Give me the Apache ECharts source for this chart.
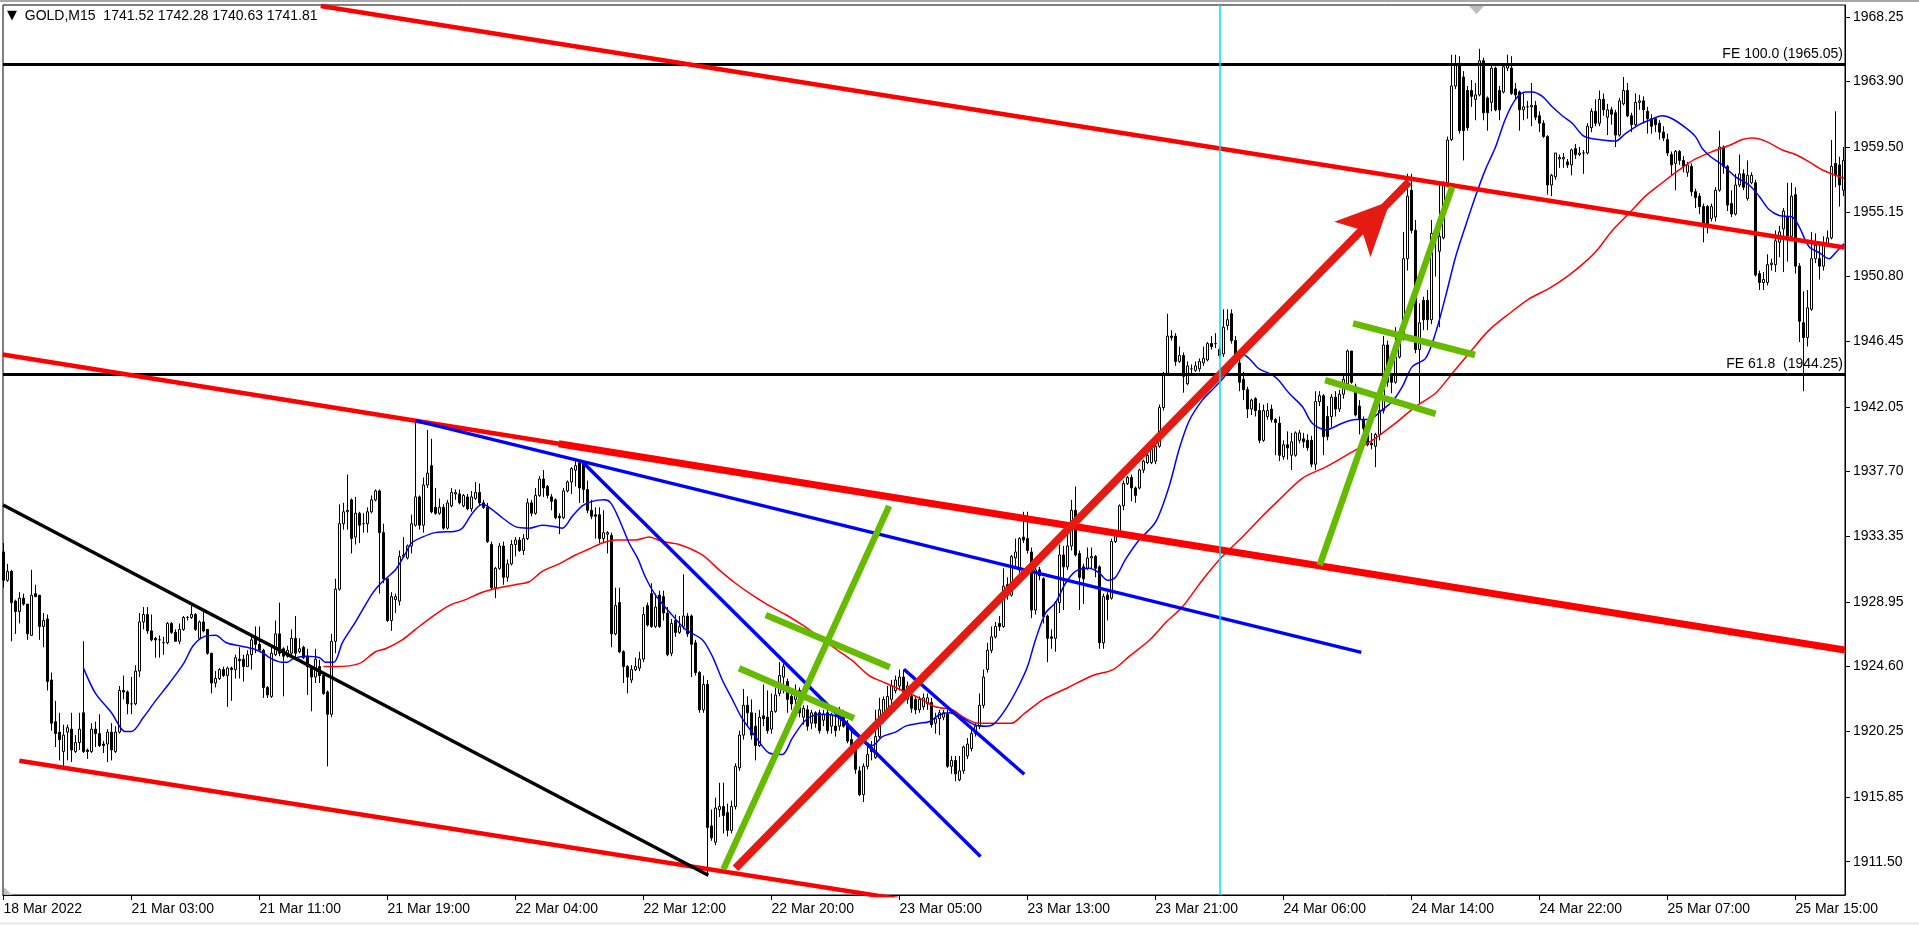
<!DOCTYPE html>
<html><head><meta charset="utf-8">
<script src="https://cdn.jsdelivr.net/npm/echarts@6/dist/echarts.min.js"></script>
<style>html,body{margin:0;padding:0;background:#fff;}#c{width:1919px;height:925px;}</style>
</head><body><div id="c"></div>
<script>
// ---------- axis labels ----------
const xLabelIdx = [0,32,64,96,128,160,192,224,256,288,320,352,384,416,448];
const xLabels = ['18 Mar 2022','21 Mar 03:00','21 Mar 11:00','21 Mar 19:00','22 Mar 04:00','22 Mar 12:00','22 Mar 20:00','23 Mar 05:00','23 Mar 13:00','23 Mar 21:00','24 Mar 06:00','24 Mar 14:00','24 Mar 22:00','25 Mar 07:00','25 Mar 15:00'];
const yTickLabels = ['1968.25','1963.90','1959.50','1955.15','1950.80','1946.45','1942.05','1937.70','1933.35','1928.95','1924.60','1920.25','1915.85','1911.50'];

// ---------- candles (M15 bars, index 0..460) ----------
const opens = [
1932.3,1930.4,1931.0,1929.0,1928.3,1929.2,1928.8,1926.7,1929.5,1929.4,
1927.3,1927.8,1923.7,1920.9,1920.2,1918.9,1920.2,1920.4,1918.9,1919.5,
1921.5,1919.0,1918.9,1920.4,1920.1,1919.4,1919.4,1920.2,1918.9,1920.2,
1923.0,1922.9,1922.1,1922.1,1924.3,1927.6,1928.1,1927.0,1926.5,1926.4,
1926.2,1926.2,1927.5,1926.9,1926.3,1927.1,1927.9,1927.9,1928.1,1926.5,
1927.6,1927.1,1925.5,1923.5,1923.8,1924.4,1924.0,1924.5,1924.4,1925.1,
1925.1,1924.6,1925.4,1926.5,1926.1,1925.7,1923.2,1922.6,1925.4,1926.8,
1925.8,1925.3,1925.5,1926.5,1925.6,1925.9,1925.3,1924.6,1923.9,1924.6,
1924.0,1922.9,1921.4,1926.3,1929.8,1934.2,1935.0,1935.8,1933.3,1934.9,
1934.2,1934.2,1935.0,1935.8,1936.4,1933.6,1930.5,1927.7,1929.1,1929.0,
1932.0,1931.9,1932.7,1934.1,1936.0,1934.1,1936.8,1938.1,1935.3,1934.9,
1935.3,1933.9,1935.4,1936.2,1936.2,1935.4,1936.0,1935.2,1935.9,1936.3,
1935.6,1935.3,1932.8,1929.9,1931.2,1932.7,1930.6,1931.5,1932.8,1933.1,
1932.4,1933.2,1935.6,1934.9,1936.1,1937.2,1936.7,1936.0,1935.8,1934.7,
1934.6,1936.4,1937.0,1937.8,1938.3,1938.3,1936.5,1935.1,1934.8,1934.8,
1933.2,1933.5,1933.4,1926.8,1928.9,1925.6,1924.6,1923.7,1924.4,1924.5,
1925.1,1928.7,1929.5,1927.3,1929.4,1929.3,1928.2,1925.5,1927.7,1926.9,
1927.3,1928.0,1928.0,1926.2,1924.2,1921.7,1923.4,1913.9,1912.8,1915.0,
1915.2,1914.8,1913.6,1915.2,1917.8,1920.0,1922.0,1921.5,1920.6,1919.3,
1921.3,1921.2,1920.4,1921.6,1922.8,1923.9,1923.6,1922.6,1922.4,1923.0,
1921.2,1921.7,1920.8,1921.5,1921.5,1921.0,1921.5,1920.6,1920.6,1920.6,
1921.5,1920.8,1919.7,1919.2,1917.6,1916.0,1917.9,1919.2,1918.5,1919.9,
1921.0,1921.7,1922.4,1923.0,1923.3,1923.9,1922.4,1922.6,1922.4,1921.7,
1921.9,1922.1,1922.2,1920.8,1921.1,1921.2,1921.4,1917.9,1918.3,1917.0,
1917.6,1918.6,1919.1,1920.1,1920.6,1922.0,1924.4,1925.7,1926.6,1927.5,
1927.3,1930.1,1929.4,1931.9,1931.1,1933.3,1933.2,1932.3,1928.4,1931.1,
1930.5,1928.0,1926.6,1926.5,1928.9,1932.1,1931.3,1932.7,1935.1,1932.2,
1931.3,1931.2,1931.9,1932.0,1931.3,1926.2,1929.4,1929.2,1933.0,1933.6,
1935.4,1936.9,1937.3,1936.6,1936.6,1937.8,1938.3,1938.3,1938.4,1939.4,
1942.0,1944.3,1946.8,1946.8,1945.1,1945.5,1943.6,1944.6,1944.5,1944.6,
1945.0,1945.2,1946.3,1946.3,1945.9,1945.6,1947.5,1948.3,1946.5,1945.0,
1943.9,1943.2,1941.9,1942.6,1941.8,1939.8,1941.4,1941.9,1941.2,1940.95,
1938.7,1939.5,1938.8,1938.8,1939.8,1939.9,1939.8,1939.8,1938.2,1942.4,
1942.8,1941.4,1941.4,1942.7,1941.9,1942.9,1943.6,1945.8,1943.4,1942.1,
1941.2,1940.6,1939.6,1939.4,1940.2,1941.8,1946.2,1944.1,1943.7,1945.4,
1946.6,1952.0,1956.6,1953.9,1945.9,1949.2,1949.2,1947.9,1953.7,1952.5,
1953.4,1957.1,1960.0,1963.6,1965.1,1964.2,1963.3,1963.3,1962.7,1963.0,
1965.3,1962.8,1962.5,1964.8,1963.3,1963.2,1964.8,1964.8,1963.4,1963.2,
1962.0,1962.2,1962.2,1962.3,1961.6,1961.1,1960.2,1956.95,1957.5,1958.7,
1958.7,1958.5,1958.3,1959.4,1959.0,1959.1,1959.1,1960.8,1961.9,1961.1,
1962.7,1961.5,1962.0,1961.8,1960.3,1962.4,1963.3,1961.6,1961.0,1962.5,
1962.6,1961.9,1961.4,1961.4,1961.1,1960.5,1960.0,1959.0,1958.4,1959.2,
1958.6,1957.8,1958.2,1956.5,1956.2,1955.5,1955.5,1954.7,1954.8,1956.6,
1959.5,1958.2,1955.7,1955.0,1956.95,1957.7,1956.05,1957.1,1957.1,1951.0,
1950.4,1950.4,1951.6,1951.6,1953.1,1954.0,1954.8,1953.5,1956.3,1951.5,
1947.7,1946.7,1948.6,1952.0,1952.0,1951.5,1953.0,1953.4,1958.4,1958.3,1956.6];
const closes = [
1930.4,1931.0,1928.9,1928.3,1929.2,1928.8,1926.8,1929.4,1929.3,1927.3,
1927.7,1923.6,1920.8,1920.1,1919.7,1920.0,1920.5,1919.0,1919.5,1920.4,
1918.9,1918.9,1920.4,1920.1,1919.3,1919.3,1920.2,1919.0,1920.2,1923.0,
1922.9,1922.1,1922.1,1924.3,1927.6,1928.1,1927.0,1926.4,1926.4,1926.4,
1926.2,1927.5,1926.9,1926.3,1927.1,1927.9,1927.9,1928.1,1927.1,1927.6,
1927.0,1925.5,1923.5,1923.8,1924.4,1924.0,1924.5,1924.4,1925.2,1925.0,
1924.6,1925.4,1926.4,1926.1,1925.7,1923.2,1922.7,1925.5,1926.8,1925.5,
1925.3,1925.7,1926.5,1925.5,1925.8,1925.2,1924.6,1923.9,1925.1,1924.0,
1922.8,1921.4,1926.3,1929.8,1934.2,1935.0,1935.1,1933.2,1934.9,1934.1,
1934.2,1935.0,1935.8,1936.4,1933.6,1930.5,1927.7,1929.3,1929.3,1932.0,
1932.1,1932.7,1934.2,1936.0,1934.1,1936.8,1937.6,1935.0,1934.9,1935.3,
1933.9,1935.6,1936.3,1936.3,1935.6,1936.1,1935.2,1936.0,1936.3,1935.6,
1935.3,1933.0,1929.9,1931.2,1932.7,1930.6,1931.5,1932.8,1933.1,1932.4,
1933.2,1935.6,1934.9,1936.1,1937.2,1936.6,1936.1,1935.7,1934.6,1934.6,
1936.4,1937.0,1937.9,1938.1,1936.6,1936.5,1935.1,1934.7,1934.7,1933.2,
1933.6,1933.6,1926.8,1928.7,1925.6,1924.6,1923.9,1924.4,1924.6,1925.1,
1928.1,1927.4,1927.3,1928.6,1927.3,1928.2,1925.4,1927.5,1926.9,1927.3,
1928.0,1926.8,1926.1,1924.2,1921.7,1923.4,1913.8,1913.1,1915.1,1915.2,
1914.6,1913.6,1915.2,1917.9,1920.0,1922.0,1921.5,1920.0,1919.3,1921.2,
1921.1,1920.3,1921.6,1922.7,1924.0,1924.6,1922.4,1922.1,1923.0,1921.5,
1921.8,1920.6,1921.5,1920.8,1920.3,1921.4,1920.3,1921.4,1920.3,1921.5,
1920.6,1919.6,1919.3,1917.7,1916.0,1917.9,1918.7,1918.9,1919.9,1921.7,
1922.4,1922.6,1923.3,1923.7,1923.9,1922.9,1923.3,1921.8,1921.7,1922.4,
1922.5,1922.5,1920.7,1921.1,1921.5,1921.5,1917.9,1918.3,1917.4,1917.6,
1919.2,1919.4,1920.1,1920.6,1922.0,1923.9,1925.7,1926.6,1927.3,1927.3,
1930.0,1929.4,1932.0,1932.3,1933.2,1933.1,1932.4,1928.4,1931.1,1930.7,
1927.96,1926.5,1926.5,1928.9,1932.1,1931.3,1932.7,1935.1,1932.1,1930.6,
1930.5,1931.9,1932.0,1931.2,1926.2,1929.3,1929.1,1933.0,1933.6,1935.4,
1936.9,1937.3,1936.6,1936.1,1937.8,1938.4,1938.8,1939.2,1939.4,1942.0,
1944.3,1946.8,1946.7,1945.1,1945.5,1944.1,1944.8,1944.6,1944.8,1945.1,
1945.3,1946.3,1946.1,1946.3,1945.5,1947.4,1947.9,1946.5,1945.4,1943.7,
1943.2,1941.9,1942.5,1941.8,1939.8,1941.8,1941.8,1941.2,1941.0,1938.8,
1939.5,1939.3,1939.7,1940.3,1940.3,1939.7,1939.3,1938.2,1942.4,1942.8,
1940.05,1940.05,1942.7,1941.9,1942.9,1943.9,1945.8,1943.7,1941.5,1941.2,
1940.6,1939.5,1939.5,1940.2,1941.8,1946.2,1943.7,1943.7,1945.4,1946.8,
1952.0,1956.2,1953.9,1945.9,1947.7,1947.9,1947.9,1953.7,1953.3,1953.5,
1957.1,1959.97,1963.6,1965.0,1960.6,1960.6,1960.8,1962.9,1963.0,1965.3,
1961.8,1961.8,1964.8,1962.0,1962.0,1964.9,1965.0,1963.1,1963.0,1962.0,
1962.2,1962.2,1962.3,1961.5,1961.1,1960.2,1956.95,1957.6,1959.1,1958.8,
1958.8,1958.3,1959.3,1959.0,1959.1,1959.1,1960.9,1961.9,1961.1,1962.7,
1962.0,1962.0,1961.7,1960.3,1962.6,1963.3,1961.6,1961.0,1962.5,1962.6,
1962.0,1961.4,1960.9,1961.0,1960.5,1960.1,1959.1,1958.3,1959.2,1958.6,
1958.2,1958.3,1956.5,1956.1,1955.5,1954.2,1954.2,1955.5,1956.6,1959.5,
1958.2,1955.6,1955.0,1956.95,1957.7,1956.8,1957.6,1957.6,1950.9,1950.4,
1950.6,1951.6,1951.7,1953.2,1953.8,1955.2,1953.5,1956.2,1951.5,1947.8,
1946.7,1948.7,1952.0,1952.9,1951.5,1953.0,1953.4,1958.2,1957.6,1956.95,1958.6];
const lows = [
1929.9,1930.3,1926.3,1926.8,1927.5,1928.7,1926.4,1926.7,1929.3,1926.4,
1925.9,1923.0,1920.3,1919.2,1918.3,1917.9,1918.3,1918.2,1918.8,1919.0,
1918.8,1918.4,1918.8,1919.2,1919.2,1918.8,1918.2,1918.3,1918.8,1920.1,
1922.4,1921.4,1921.4,1922.0,1923.9,1927.1,1926.8,1926.3,1925.2,1925.2,
1925.4,1926.1,1926.8,1926.3,1926.1,1927.0,1927.7,1927.8,1927.0,1926.4,
1926.9,1925.4,1922.8,1923.2,1923.7,1923.9,1921.9,1922.3,1923.8,1923.8,
1923.6,1924.6,1924.4,1925.5,1925.7,1922.5,1922.5,1922.5,1925.3,1925.3,
1922.6,1925.2,1925.2,1925.1,1925.5,1925.1,1922.7,1921.6,1923.5,1923.5,
1922.7,1917.9,1921.2,1925.5,1929.7,1933.8,1933.8,1932.2,1932.8,1932.9,
1933.6,1933.6,1934.9,1935.7,1929.5,1930.2,1927.6,1927.0,1928.2,1928.7,
1931.9,1931.8,1932.2,1934.0,1933.8,1933.6,1936.6,1934.9,1934.8,1934.8,
1933.8,1933.8,1935.3,1935.8,1935.5,1935.3,1935.1,1935.0,1935.8,1935.4,
1935.2,1932.9,1929.8,1929.2,1931.1,1930.1,1930.3,1931.4,1932.0,1932.3,
1932.1,1933.1,1934.7,1934.8,1936.0,1936.0,1935.9,1935.1,1934.5,1933.5,
1934.5,1936.3,1936.2,1936.7,1935.6,1935.6,1934.9,1934.5,1933.2,1932.9,
1932.9,1932.2,1925.9,1926.7,1925.5,1923.5,1922.8,1923.5,1924.3,1924.3,
1924.9,1927.3,1927.2,1927.2,1927.2,1927.7,1925.3,1925.3,1926.6,1926.8,
1927.1,1926.6,1923.9,1924.0,1921.5,1921.5,1910.5,1912.9,1912.6,1914.5,
1913.4,1913.2,1913.4,1915.0,1917.6,1919.7,1920.6,1919.7,1918.3,1919.2,
1920.6,1920.1,1920.1,1921.5,1922.6,1922.8,1921.5,1921.7,1921.5,1921.2,
1920.7,1920.3,1920.4,1920.5,1920.1,1920.6,1920.1,1920.1,1919.9,1920.3,
1920.5,1919.45,1919.0,1917.4,1915.9,1915.5,1917.7,1918.3,1918.4,1919.8,
1920.8,1921.5,1922.1,1922.8,1923.0,1922.6,1922.1,1921.5,1921.4,1921.5,
1921.7,1921.7,1920.5,1920.1,1920.0,1921.0,1917.8,1917.4,1916.9,1916.9,
1917.4,1918.4,1918.9,1919.9,1920.4,1921.8,1924.2,1925.5,1926.5,1927.0,
1927.2,1929.1,1929.3,1931.2,1930.9,1932.9,1932.2,1927.85,1928.1,1930.4,
1927.5,1924.9,1925.8,1925.6,1928.2,1928.4,1931.1,1932.4,1932.0,1928.4,
1928.8,1931.1,1931.2,1930.6,1925.8,1925.8,1927.7,1929.1,1932.9,1933.3,
1935.1,1936.8,1935.7,1935.6,1936.5,1937.6,1938.2,1938.2,1938.2,1939.3,
1941.8,1944.2,1946.5,1944.8,1945.0,1943.0,1943.5,1944.3,1944.4,1944.4,
1944.8,1945.1,1945.9,1946.0,1945.3,1945.4,1947.2,1946.3,1945.2,1943.1,
1942.5,1941.3,1941.5,1941.4,1939.6,1939.7,1941.2,1941.0,1938.8,1938.4,
1938.5,1938.5,1937.8,1938.7,1939.6,1939.3,1939.1,1938.0,1937.8,1942.1,
1938.8,1939.8,1940.7,1941.4,1941.7,1942.6,1943.4,1943.6,1941.4,1940.2,
1939.8,1939.4,1939.2,1938.0,1939.8,1941.6,1943.4,1942.96,1943.6,1945.3,
1946.5,1951.2,1953.7,1945.65,1942.3,1947.2,1947.2,1947.6,1950.8,1947.4,
1953.3,1956.8,1959.9,1963.4,1960.4,1958.6,1960.6,1962.2,1961.3,1962.9,
1961.3,1960.6,1961.9,1961.9,1961.3,1963.1,1964.6,1963.0,1962.7,1960.6,
1961.3,1961.4,1960.9,1961.3,1960.5,1960.1,1956.3,1956.2,1957.3,1958.1,
1958.1,1958.1,1957.6,1958.7,1958.9,1957.7,1959.0,1960.5,1960.9,1960.9,
1961.6,1960.3,1961.0,1959.5,1960.2,1962.3,1961.5,1960.5,1960.9,1962.0,
1961.1,1960.4,1960.4,1960.5,1960.0,1959.9,1958.9,1957.6,1956.6,1958.3,
1957.8,1957.5,1956.2,1955.4,1955.0,1953.1,1953.7,1954.5,1954.5,1956.5,
1957.7,1955.2,1954.8,1954.9,1956.8,1956.6,1955.9,1957.0,1950.8,1949.9,
1949.9,1950.2,1951.2,1951.1,1952.1,1951.1,1951.8,1953.3,1951.0,1946.4,
1943.1,1946.1,1948.5,1951.7,1950.6,1951.2,1952.8,1953.3,1956.8,1955.5,1956.2];
const highs = [
1932.9,1931.5,1931.1,1929.1,1929.6,1929.5,1928.8,1931.1,1930.1,1929.4,
1928.2,1928.1,1924.2,1922.3,1921.5,1920.7,1920.7,1921.5,1920.0,1921.5,
1926.3,1919.1,1920.8,1920.9,1921.4,1919.6,1920.4,1920.8,1920.6,1923.3,
1924.0,1923.0,1923.9,1924.7,1928.2,1928.6,1928.6,1928.1,1926.6,1926.7,
1926.6,1927.6,1927.6,1927.1,1927.5,1928.0,1928.0,1928.7,1928.2,1927.7,
1928.3,1927.1,1925.5,1924.3,1924.5,1924.6,1924.6,1924.6,1925.4,1925.9,
1925.4,1925.7,1926.7,1927.3,1927.3,1925.8,1923.3,1926.0,1927.7,1928.9,
1925.9,1926.0,1927.1,1928.0,1926.5,1926.0,1925.8,1924.7,1925.8,1925.05,
1924.2,1923.0,1926.8,1930.5,1935.5,1935.6,1937.5,1935.9,1936.0,1935.0,
1934.9,1935.3,1936.1,1936.5,1936.5,1934.2,1930.5,1929.6,1929.5,1932.4,
1933.3,1932.8,1934.8,1941.2,1936.1,1937.3,1940.5,1939.9,1936.6,1935.9,
1935.5,1935.8,1936.6,1936.5,1936.5,1936.2,1936.2,1936.4,1937.0,1936.9,
1935.8,1935.6,1933.0,1931.3,1932.9,1933.0,1931.8,1933.1,1933.3,1933.3,
1933.5,1935.9,1935.8,1936.6,1937.4,1937.8,1936.8,1936.2,1935.9,1934.9,
1936.6,1937.1,1938.0,1938.4,1938.5,1938.4,1937.1,1935.8,1935.3,1935.3,
1935.1,1933.7,1933.6,1929.9,1929.9,1925.7,1924.7,1924.7,1925.2,1925.6,
1928.6,1928.9,1930.2,1929.5,1929.7,1929.7,1928.6,1927.8,1928.1,1928.0,
1930.8,1928.2,1928.1,1926.4,1924.3,1924.0,1923.7,1915.0,1915.8,1916.8,
1916.8,1915.4,1915.6,1918.1,1920.3,1923.1,1922.6,1922.4,1921.5,1921.7,
1923.4,1923.0,1922.8,1923.2,1924.9,1924.8,1923.8,1923.1,1923.4,1923.2,
1922.0,1922.0,1921.7,1921.6,1921.7,1921.7,1921.7,1921.5,1921.5,1921.9,
1921.7,1921.0,1920.2,1919.4,1917.9,1918.1,1919.4,1919.6,1921.7,1922.5,
1922.6,1923.3,1923.7,1924.0,1924.4,1924.4,1923.6,1922.8,1922.6,1922.6,
1922.8,1922.8,1922.5,1921.5,1921.7,1921.7,1921.7,1918.6,1918.6,1918.6,
1919.3,1919.8,1920.5,1920.8,1922.8,1924.4,1926.2,1927.3,1927.6,1928.0,
1931.2,1930.6,1932.1,1933.2,1933.3,1935.0,1935.0,1932.6,1931.5,1931.3,
1930.6,1928.1,1927.1,1929.0,1932.8,1932.7,1934.1,1935.8,1936.7,1932.4,
1931.5,1932.6,1932.6,1932.1,1931.4,1929.5,1929.6,1933.2,1933.7,1935.5,
1937.1,1937.4,1937.5,1936.7,1937.9,1938.5,1939.05,1939.3,1939.5,1942.2,
1944.4,1948.3,1947.2,1947.0,1946.1,1945.7,1945.1,1944.9,1945.1,1945.3,
1946.1,1946.4,1946.8,1947.0,1946.1,1948.6,1948.6,1948.6,1946.8,1945.4,
1944.4,1943.4,1942.6,1942.7,1942.3,1942.2,1942.3,1942.2,1941.3,1941.4,
1939.8,1940.4,1940.3,1940.4,1940.5,1940.3,1940.2,1940.1,1943.1,1943.1,
1942.9,1942.1,1942.9,1943.1,1943.2,1944.3,1945.9,1945.8,1943.6,1942.5,
1941.4,1941.2,1940.3,1940.3,1942.5,1946.8,1946.5,1944.3,1947.4,1947.2,
1953.8,1957.7,1957.7,1954.6,1949.0,1949.45,1949.9,1954.6,1954.0,1957.2,
1957.2,1960.2,1965.7,1965.7,1965.6,1964.6,1963.6,1964.0,1963.8,1966.1,
1965.5,1962.9,1965.0,1964.9,1963.6,1965.1,1965.7,1965.6,1963.8,1963.3,
1963.1,1962.6,1963.8,1962.6,1961.9,1961.3,1960.3,1957.7,1959.1,1959.0,
1959.1,1958.7,1959.4,1959.7,1959.5,1959.3,1961.1,1962.1,1962.7,1963.3,
1963.1,1962.4,1962.2,1962.0,1962.8,1964.2,1963.8,1961.8,1963.1,1963.0,
1962.9,1962.2,1961.7,1961.5,1961.3,1960.9,1960.4,1959.2,1959.3,1959.3,
1958.9,1958.5,1958.4,1956.7,1956.4,1955.7,1955.6,1955.7,1956.8,1960.6,
1959.6,1958.3,1956.6,1957.7,1959.0,1958.0,1958.6,1957.8,1957.3,1951.2,
1951.1,1952.3,1952.0,1953.9,1954.2,1955.4,1957.1,1957.1,1956.8,1951.7,
1949.8,1949.9,1953.8,1953.7,1953.0,1953.5,1953.9,1959.97,1961.9,1958.85,1959.5];

// ---------- moving averages as [bar, price] ----------
const maFast = [[20,1924.5],[23,1922.8],[27,1921.5],[29,1920.6],[30.3,1920.25],[32,1920.25],[35,1921.2],[38,1922.3],[41.5,1923.5],[45,1924.8],[47.4,1926.0],[50,1926.6],[53,1926.7],[55.7,1926.2],[59,1926.0],[62.4,1925.8],[65,1925.5],[66.5,1925.2],[69.5,1924.9],[71,1924.9],[72.5,1925.15],[75.7,1925.3],[79,1925.2],[80.5,1924.9],[82.6,1924.9],[84.7,1926.2],[88,1927.6],[92.2,1929.5],[94.7,1930.3],[98,1931.1],[100.5,1932.2],[102,1932.9],[104.7,1933.3],[108,1933.6],[113,1933.7],[114.7,1933.9],[117.2,1934.9],[119.7,1935.5],[121.4,1935.3],[124.7,1934.6],[128,1934.0],[131.4,1933.9],[134.7,1934.1],[138,1934.0],[139.7,1933.9],[142.2,1934.7],[144.7,1935.4],[147.2,1935.7],[150.1,1935.8],[151.8,1935.6],[153.9,1934.5],[156.4,1932.9],[158.5,1931.9],[160.5,1930.6],[163,1929.4],[166.4,1928.3],[170.5,1927.1],[174.7,1926.4],[177.2,1925.3],[179.7,1923.7],[182.2,1922.4],[184.7,1921.1],[188,1919.9],[191.4,1918.8],[194.7,1918.7],[197.2,1919.8],[200.5,1921.0],[203.9,1921.4],[207.2,1921.35],[209.7,1921.0],[212.2,1920.2],[214.7,1919.7],[217.2,1919.3],[219.7,1919.9],[223,1920.2],[225.5,1920.6],[228.9,1920.8],[231.4,1920.9],[233.9,1921.35],[236.4,1921.5],[238.7,1921.3],[242.7,1920.7],[245.8,1920.6],[247.8,1920.8],[250.9,1921.9],[254,1923.4],[256,1924.6],[258,1926.4],[260.5,1928.2],[263,1928.9],[265.5,1930.2],[268,1931.0],[271.4,1931.2],[273.9,1930.9],[276,1930.4],[278,1930.6],[280.5,1931.8],[283.9,1933.1],[288,1934.3],[291.4,1936.7],[293.9,1939.2],[296.4,1941.1],[299.7,1942.5],[302.6,1943.3],[304.7,1943.9],[307.2,1944.75],[309.7,1945.6],[311.4,1945.3],[313.9,1944.6],[317.2,1944.2],[318.9,1943.8],[321.4,1942.96],[324.7,1942.07],[327.2,1940.95],[330.5,1940.5],[334.7,1940.95],[338,1941.2],[341.4,1941.2],[344.7,1941.85],[347.2,1942.4],[349.7,1943.4],[352.2,1944.75],[355.5,1945.3],[358,1947.0],[360.5,1949.45],[363,1952.1],[365.5,1954.2],[368,1956.2],[370.5,1958.0],[373,1959.5],[375.5,1961.4],[378,1962.7],[380.5,1963.2],[382.2,1963.2],[384.7,1962.9],[387.2,1962.2],[389.7,1961.6],[392.2,1961.1],[394.7,1960.3],[396.4,1960.1],[398.9,1960.0],[403,1959.9],[405.5,1960.4],[408.9,1961.0],[411.4,1961.3],[414.7,1961.6],[417.2,1961.4],[420.5,1960.8],[423,1960.2],[424.7,1959.4],[426.8,1958.85],[429.7,1958.3],[433,1957.5],[436.4,1956.95],[438.9,1956.2],[441.4,1955.3],[443.9,1954.9],[447.2,1954.8],[448.9,1954.15],[451.4,1952.8],[453.9,1952.4],[456.4,1952.0],[458,1952.4],[460.1,1953.0]];
const maSlow = [[80,1924.6],[83,1924.6],[88.9,1924.8],[93,1925.6],[95.5,1925.8],[99.7,1926.4],[103,1927.1],[107.2,1927.96],[111.4,1928.7],[115.5,1929.1],[119.7,1929.6],[123.9,1929.9],[128,1930.1],[131.4,1930.3],[134.7,1931.0],[138.9,1931.5],[143,1932.1],[146.4,1932.5],[149.7,1932.9],[153,1933.1],[156.4,1933.1],[158,1933.1],[161.4,1933.3],[164.7,1933.0],[168.9,1932.8],[174.7,1932.1],[178.9,1931.1],[183,1930.2],[187.2,1929.4],[191.4,1928.7],[195.5,1928.1],[199.7,1927.4],[203.9,1926.6],[208,1925.8],[212.2,1925.0],[216.4,1924.0],[220.5,1923.5],[224.7,1923.0],[228.9,1922.5],[233,1921.9],[237.2,1921.7],[240,1921.2],[243.7,1920.8],[252,1920.8],[255,1921.4],[260,1922.4],[266.2,1923.2],[272.3,1924.0],[277.4,1924.4],[281.5,1925.3],[286.6,1926.4],[290.7,1927.6],[294.7,1928.6],[299.7,1930.4],[304.7,1931.99],[309.7,1933.3],[314.7,1934.7],[318.9,1935.8],[324.7,1937.25],[330.5,1938.0],[336.4,1938.9],[342.2,1939.8],[348,1940.95],[353,1942.07],[358,1942.96],[362.2,1944.3],[366.4,1945.65],[371.4,1947.2],[376.4,1948.3],[381.4,1949.3],[386.4,1950.0],[391.4,1950.9],[395.5,1951.8],[398.5,1952.6],[402.2,1953.9],[406.4,1955.05],[410.5,1956.2],[414.7,1957.1],[418.9,1957.96],[423,1958.7],[427.2,1959.2],[431.4,1959.6],[434.7,1960.0],[437.2,1960.1],[440.5,1959.9],[444.7,1959.3],[448,1959.0],[451.4,1958.5],[454.7,1957.96],[458,1957.6],[460.1,1957.4]];

// ---------- drawn objects, endpoints as [bar, price] ----------
const redTopLine   = [[79.3,1968.97],[460.3,1952.75]];
const redMidLine   = [[-0.2,1945.57],[460.3,1925.72]];
const redMidThick  = [[138.8,1939.57],[460.3,1925.72]];
const redLowLine   = [[3.95,1918.28],[224.05,1908.98]];
const blackLine    = [[-0.1,1935.46],[176.2,1910.59]];
const blueLong     = [[103.05,1941.12],[339.45,1925.56]];
const blueSteep    = [[144.7,1938.36],[244.25,1911.84]];
const blueShort    = [[225.1,1924.42],[255.2,1917.37]];
const greenLeft    = [[179.97,1910.99],[221.4,1935.39]];
const greenLeftX1  = [[190.55,1928.07],[221.55,1924.56]];
const greenLeftX2  = [[183.9,1924.49],[212.6,1921.13]];
const greenRight   = [[329.05,1931.42],[362.2,1956.83]];
const greenRightX1 = [[337.4,1947.66],[367.9,1945.53]];
const greenRightX2 = [[330.4,1943.85],[358.05,1941.57]];
const arrowLine    = [[183.0,1911.06],[351.4,1957.17]];
const feValues = [1965.05, 1944.25];
const feTexts  = ['FE 100.0 (1965.05)', 'FE 61.8  (1944.25)'];
const vLineBar = 304;
const titleText = 'GOLD,M15  1741.52 1742.28 1740.63 1741.81';

// ---------- build ----------
const FONT = "'Liberation Sans', Arial, sans-serif";
const yTickVals = yTickLabels.map(Number);
const candles = opens.map((o, i) => [i, o, closes[i], lows[i], highs[i]]);

function seg(data, color, width, z) {
  return { type: 'line', data: data, symbol: 'none', showSymbol: false, silent: true,
    animation: false, z: z, clip: true, emphasis: { disabled: true },
    lineStyle: { color: color, width: width, cap: 'butt' } };
}

const option = {
  animation: false,
  backgroundColor: '#ffffff',
  title: {
    text: '{t|▼}  ' + titleText, left: 7, top: 9, padding: 0,
    textStyle: { fontSize: 14, fontWeight: 'normal', color: '#000', fontFamily: FONT,
      rich: { t: { fontSize: 13, color: '#000', fontFamily: 'DejaVu Sans' } } }
  },
  grid: { left: 3, right: 74, top: 5, bottom: 30, show: true, borderColor: '#000', borderWidth: 1,
    backgroundColor: '#fff', containLabel: false, outerBoundsMode: 'none' },
  xAxis: {
    type: 'value', min: -0.125, max: 460.375, position: 'bottom',
    axisLine: { show: true, onZero: false, lineStyle: { color: '#000', width: 1 } },
    axisTick: { show: true, customValues: xLabelIdx, length: 5, lineStyle: { color: '#000' } },
    axisLabel: { customValues: xLabelIdx, align: 'left', margin: 7, color: '#000', fontSize: 14,
      fontFamily: FONT, hideOverlap: false,
      formatter: v => { const k = xLabelIdx.indexOf(Math.round(v)); return k >= 0 ? xLabels[k] : ''; } },
    splitLine: { show: false }
  },
  yAxis: {
    type: 'value', position: 'right', min: 1909.26, max: 1969.04, scale: true,
    axisLine: { show: true, onZero: false, lineStyle: { color: '#000', width: 1 } },
    axisTick: { show: true, customValues: yTickVals, length: 5, lineStyle: { color: '#000' } },
    axisLabel: { customValues: yTickVals, margin: 8, color: '#000', fontSize: 14, fontFamily: FONT,
      hideOverlap: false, formatter: v => Number(v).toFixed(2) },
    splitLine: { show: false }
  },
  graphic: [
    { type: 'rect', shape: { x: 0, y: 0, width: 1919, height: 2 }, style: { fill: '#a8a8a8' }, silent: true },
    { type: 'rect', shape: { x: 0, y: 922, width: 1919, height: 3 }, style: { fill: '#f0f0f0' }, silent: true },
    { type: 'polygon', shape: { points: [[1469, 6], [1484, 6], [1476.5, 14]] }, style: { fill: '#bdbdbd' }, silent: true, z: 100 },
    { type: 'polygon', shape: { points: [[4, 887], [4, 895], [12, 895]] }, style: { fill: '#c0c0c0' }, silent: true, z: 100 }
  ],
  series: [
    { type: 'candlestick', data: candles, encode: { x: 0, y: [1, 2, 3, 4] }, barWidth: 2, z: 2,
      silent: true, animation: false, large: false,
      itemStyle: { color: '#ffffff', color0: '#000000', borderColor: '#000000', borderColor0: '#000000', borderWidth: 1 } },
    Object.assign(seg(maSlow, '#ff0000', 1.5, 3), { smooth: 0.3 }),
    Object.assign(seg(maFast, '#0000ff', 1.5, 3), { smooth: 0.3 }),
    { type: 'line', data: [], silent: true, z: 4,
      markLine: { silent: true, animation: false, z: 4, symbol: ['none', 'none'],
        lineStyle: { color: '#000', width: 3, type: 'solid' },
        label: { show: true, position: 'insideEndTop', color: '#000', fontSize: 14, fontFamily: FONT, distance: [2, 3] },
        emphasis: { disabled: true },
        data: feValues.map((v, k) => ({ yAxis: v, label: { formatter: feTexts[k] } })) } },
    seg(redLowLine, '#ff0000', 4.5, 4),
    seg(redMidLine, '#ff0000', 4.5, 4),
    seg(redMidThick, '#ff0000', 7, 4),
    seg(redTopLine, '#ff0000', 4.5, 4),
    seg(blackLine, '#000000', 3.5, 4),
    seg(blueLong, '#0000ff', 3.5, 4),
    seg(blueSteep, '#0000ff', 3.5, 4),
    seg(blueShort, '#0000ff', 3.5, 4),
    seg(greenLeft, '#66bb00', 6.5, 5),
    seg(greenLeftX1, '#66bb00', 6.5, 5),
    seg(greenLeftX2, '#66bb00', 6.5, 5),
    seg(greenRight, '#66bb00', 6.5, 5),
    seg(greenRightX1, '#66bb00', 6.5, 5),
    seg(greenRightX2, '#66bb00', 6.5, 5),
    { type: 'line', data: [], silent: true, z: 6,
      markLine: { silent: true, animation: false, z: 6, symbol: ['none', 'arrow'], symbolSize: [38, 54],
        symbolOffset: [[0, 0], [0, 27]],
        label: { show: false }, emphasis: { disabled: true },
        lineStyle: { color: '#e41b12', width: 8, type: 'solid', opacity: 1 },
        itemStyle: { color: '#e41b12' },
        data: [[{ coord: arrowLine[0] }, { coord: arrowLine[1] }]] } },
    { type: 'line', data: [], silent: true, z: 7,
      markLine: { silent: true, animation: false, z: 7, symbol: ['none', 'none'],
        label: { show: false }, emphasis: { disabled: true },
        lineStyle: { color: '#00e0f0', width: 1.5, type: 'solid' },
        data: [{ xAxis: vLineBar }] } }
  ]
};
const chart = echarts.init(document.getElementById('c'), null, { renderer: 'canvas' });
chart.setOption(option);
</script>
</body></html>
